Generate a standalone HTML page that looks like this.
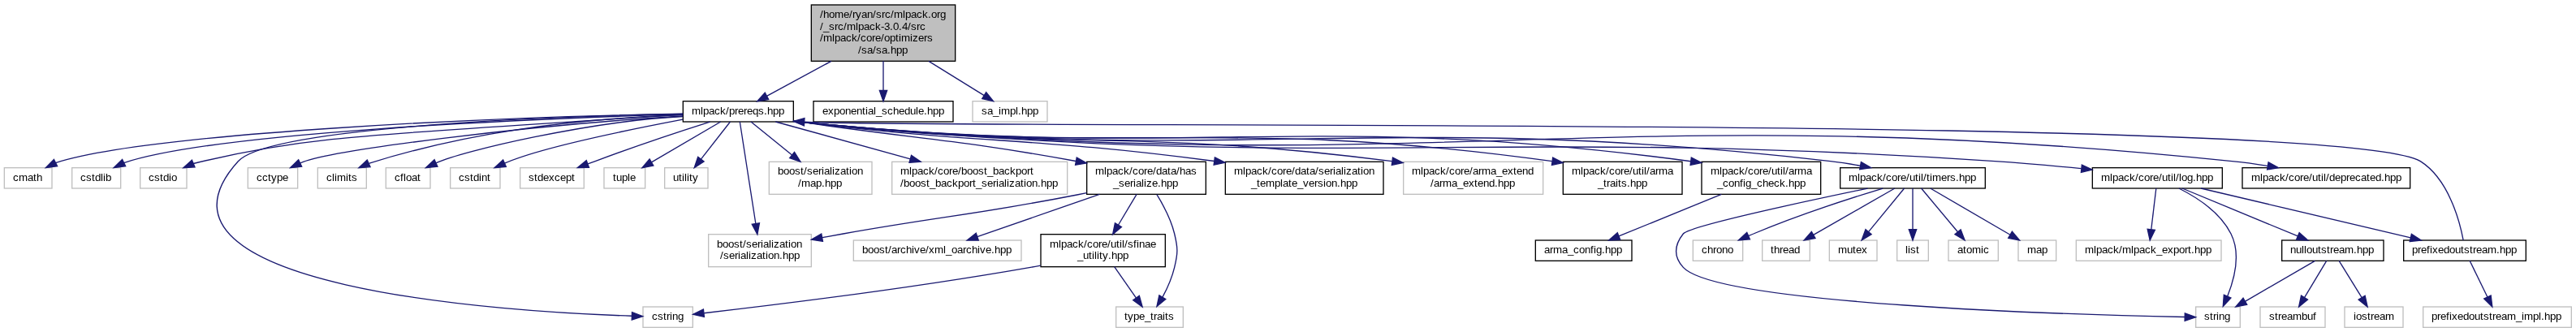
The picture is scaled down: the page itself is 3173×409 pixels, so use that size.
<!DOCTYPE html>
<html><head><meta charset="utf-8"><title>sa.hpp include graph</title>
<style>
html,body{margin:0;padding:0;background:#fff;}
body{width:3173px;height:409px;overflow:hidden;font-family:"Liberation Sans",sans-serif;}
svg{display:block;will-change:transform;}
.e{fill:none;stroke:#191970;}
.a{fill:#191970;stroke:#191970;}
.t text{font-family:"Liberation Sans",sans-serif;font-size:13.3333px;fill:#000;white-space:pre;}
</style></head><body>
<svg width="3173" height="409" viewBox="0 0 3173 409">
<rect width="3173" height="409" fill="#fff"/>
<g stroke-width="1.3333">
<rect x="999.33" y="6" width="177.34" height="69.33" fill="#bfbfbf" stroke="black"/>
<rect x="841.33" y="124.67" width="136" height="25.33" fill="white" stroke="black"/>
<path class="e" d="M1023.93,75.33L944.47,118.32"/>
<polygon class="a" points="942.25,114.22 932.74,124.67 946.69,122.43"/>
<rect x="1002" y="124.67" width="172" height="25.33" fill="white" stroke="black"/>
<path class="e" d="M1088,75.33L1088,111.33"/>
<polygon class="a" points="1083.33,111.33 1088,124.67 1092.67,111.33"/>
<rect x="1198" y="124.67" width="92" height="25.33" fill="white" stroke="#bfbfbf"/>
<path class="e" d="M1143.94,75.33L1212.22,117.64"/>
<polygon class="a" points="1209.77,121.61 1223.56,124.67 1214.68,113.68"/>
<rect x="5.33" y="206.67" width="58.67" height="25.33" fill="white" stroke="#bfbfbf"/>
<path class="e" d="M841.1,140.2C614.81,143.89 185.57,163.12 68.5,200.6"/>
<polygon class="a" points="66.41,196.43 56.4,206.67 70.59,204.77"/>
<rect x="88.67" y="206.67" width="60" height="25.33" fill="white" stroke="#bfbfbf"/>
<path class="e" d="M841.1,140.6C643.83,146.75 266.04,162.97 152.6,200.6"/>
<polygon class="a" points="150.55,196.41 140.2,206.67 154.65,204.79"/>
<rect x="172.67" y="206.67" width="57.33" height="25.33" fill="white" stroke="#bfbfbf"/>
<path class="e" d="M841.1,141C462.3,166.52 383.07,165.83 238.2,201.5"/>
<polygon class="a" points="236.39,197.2 225.9,206.67 240.01,205.8"/>
<rect x="792" y="378" width="61.33" height="25.33" fill="white" stroke="#bfbfbf"/>
<path class="e" d="M841.1,140.3C633.02,144.15 328.73,159.66 293.3,198.7 151.39,355.12 627.07,384.31 778.12,389.28"/>
<polygon class="a" points="778.52,384.63 791.69,389.69 778.23,393.96"/>
<rect x="305.33" y="206.67" width="61.34" height="25.33" fill="white" stroke="#bfbfbf"/>
<path class="e" d="M841.1,143C649.26,154.26 403.17,185.32 369.7,201"/>
<polygon class="a" points="367.72,196.77 357.6,206.67 371.68,205.23"/>
<rect x="391.33" y="206.67" width="60" height="25.33" fill="white" stroke="#bfbfbf"/>
<path class="e" d="M841.1,141.5C695.05,146.97 569.99,165.04 454.2,201.3"/>
<polygon class="a" points="452.32,197.03 442,206.67 456.08,205.57"/>
<rect x="475.33" y="206.67" width="54.67" height="25.33" fill="white" stroke="#bfbfbf"/>
<path class="e" d="M841.1,143.5C727.82,149.05 569.23,186.02 537,200.9"/>
<polygon class="a" points="535.04,196.66 524.5,206.67 538.96,205.14"/>
<rect x="554.67" y="206.67" width="61.33" height="25.33" fill="white" stroke="#bfbfbf"/>
<path class="e" d="M841.1,147.2C768.31,161.04 664.14,182.39 621.5,201.2"/>
<polygon class="a" points="619.62,196.93 609.1,206.67 623.38,205.47"/>
<rect x="640.67" y="206.67" width="78.66" height="25.33" fill="white" stroke="#bfbfbf"/>
<path class="e" d="M874.57,150.09C837.23,161.95 779.31,181.16 733.2,198.67 730.21,199.73 727.13,200.84 724.04,201.96"/>
<polygon class="a" points="725.52,206.39 711.39,206.6 722.29,197.63"/>
<rect x="744" y="206.67" width="50.67" height="25.33" fill="white" stroke="#bfbfbf"/>
<path class="e" d="M887.71,150L802.46,199.93"/>
<polygon class="a" points="800.11,195.9 790.96,206.67 804.82,203.95"/>
<rect x="818.67" y="206.67" width="53.33" height="25.33" fill="white" stroke="#bfbfbf"/>
<path class="e" d="M899.45,150L863.42,196.16"/>
<polygon class="a" points="859.74,193.28 855.22,206.67 867.1,199.03"/>
<rect x="872.67" y="288.67" width="126.66" height="40" fill="white" stroke="#bfbfbf"/>
<path class="e" d="M911.3,150L930.84,275.49"/>
<polygon class="a" points="926.23,276.21 932.89,288.67 935.45,274.77"/>
<rect x="947.33" y="199.33" width="126.67" height="40" fill="white" stroke="#bfbfbf"/>
<path class="e" d="M924.99,150L975.59,190.95"/>
<polygon class="a" points="972.65,194.57 985.95,199.33 978.52,187.32"/>
<rect x="1098.67" y="199.33" width="216" height="40" fill="white" stroke="#bfbfbf"/>
<path class="e" d="M955.26,150L1121.29,195.79"/>
<polygon class="a" points="1120.05,200.29 1134.15,199.33 1122.53,191.29"/>
<rect x="1338.67" y="199.33" width="146.66" height="40" fill="white" stroke="black"/>
<path class="e" d="M977.41,148.92C981.44,149.51 985.44,150.09 989.33,150.67 1134.93,171.95 1175.47,171.31 1325.16,198.51"/>
<polygon class="a" points="1326.27,193.96 1338.53,200.96 1324.57,203.15"/>
<rect x="1509.33" y="199.33" width="194.67" height="40" fill="white" stroke="black"/>
<path class="e" d="M977.39,149.13C981.43,149.68 985.43,150.19 989.33,150.67 1210.16,177.64 1270.32,168.6 1495.65,198.53"/>
<polygon class="a" points="1496.37,193.92 1508.97,200.32 1495.13,203.17"/>
<rect x="1728.67" y="199.33" width="172" height="40" fill="white" stroke="#bfbfbf"/>
<path class="e" d="M977.37,149.27C981.41,149.77 985.43,150.24 989.33,150.67 1306.73,186.39 1392.72,157.56 1714.61,198.65"/>
<polygon class="a" points="1715.52,194.05 1728.13,200.4 1714.32,203.32"/>
<rect x="1925.33" y="199.33" width="146.67" height="40" fill="white" stroke="black"/>
<path class="e" d="M977.36,149.33C981.41,149.83 985.43,150.27 989.33,150.67 1394.09,193.44 1503.64,142.41 1911.87,198.69"/>
<polygon class="a" points="1912.69,194.09 1925.27,200.53 1911.43,203.35"/>
<rect x="2096" y="199.33" width="146.67" height="40" fill="white" stroke="black"/>
<path class="e" d="M977.36,149.37C981.4,149.85 985.41,150.29 989.33,150.67 1469.68,199.09 1599,134.08 2082.63,198.72"/>
<polygon class="a" points="2083.33,194.11 2095.95,200.49 2082.11,203.36"/>
<rect x="2577.33" y="206.67" width="160" height="25.33" fill="white" stroke="black"/>
<path class="e" d="M977.35,149.41C981.4,149.89 985.41,150.31 989.33,150.67 1639.44,213.85 1805.89,155.07 2457.33,198.67 2492.05,200.91 2530.09,204.35 2563.57,207.69"/>
<polygon class="a" points="2564.35,203.08 2577.15,209.07 2563.4,212.36"/>
<rect x="2266.67" y="206.67" width="178.66" height="25.33" fill="white" stroke="black"/>
<path class="e" d="M977.36,149.4C981.4,149.87 985.41,150.29 989.33,150.67 1549.65,205.16 1695.49,134.08 2254.67,198.67 2266.56,200.01 2279.16,201.99 2291.27,204.15"/>
<polygon class="a" points="2292.43,199.61 2304.68,206.65 2290.72,208.79"/>
<rect x="2762" y="206.67" width="206.67" height="25.33" fill="white" stroke="black"/>
<path class="e" d="M977.35,149.44C981.4,149.91 985.41,150.32 989.33,150.67 1768.81,225.49 1970.44,117.99 2749.33,198.67 2763.51,200.04 2778.56,202.09 2792.96,204.36"/>
<polygon class="a" points="2794.13,199.83 2806.53,206.59 2792.61,209.03"/>
<path class="e" d="M1338.51,237.6C1334.51,238.43 1330.55,239.24 1326.67,240 1199.33,265.01 1166.44,265.32 1038.67,288 1030.35,289.48 1021.65,291.05 1013,292.65"/>
<polygon class="a" points="1013.45,297.32 999.49,295.16 1011.75,288.13"/>
<rect x="1282" y="288.67" width="153.33" height="40" fill="white" stroke="black"/>
<path class="e" d="M1400.06,239.33L1377.44,277.22"/>
<polygon class="a" points="1373.43,274.83 1370.61,288.67 1381.45,279.61"/>
<rect x="1374.67" y="378" width="82.66" height="25.33" fill="white" stroke="#bfbfbf"/>
<path class="e" d="M1424.93,239.72C1432.93,252.71 1442.45,270.63 1446.67,288 1450.99,305.85 1450.96,311.47 1446.67,329.33 1443.59,342.11 1437.81,355.23 1432.03,365.92"/>
<polygon class="a" points="1435.85,368.61 1424.93,377.59 1427.88,363.77"/>
<rect x="1051.33" y="296" width="206.67" height="25.33" fill="white" stroke="#bfbfbf"/>
<path class="e" d="M1354.39,239.33L1203.75,291.63"/>
<polygon class="a" points="1202.22,287.22 1191.15,296 1205.28,296.04"/>
<path class="e" d="M1281.75,327.05C1277.56,327.85 1273.4,328.63 1269.33,329.33 1122.83,354.99 947.63,376.43 867.12,385.75"/>
<polygon class="a" points="867.43,390.41 853.67,387.23 866.41,381.13"/>
<path class="e" d="M1372.65,328.67L1399.5,367.07"/>
<polygon class="a" points="1395.68,369.75 1407.14,378 1403.33,364.4"/>
<rect x="1891.33" y="296" width="118.67" height="25.33" fill="white" stroke="black"/>
<path class="e" d="M2120.38,239.33L1994.01,290.96"/>
<polygon class="a" points="1992.25,286.64 1981.67,296 1995.78,295.28"/>
<rect x="2704.67" y="378" width="54.66" height="25.33" fill="white" stroke="#bfbfbf"/>
<path class="e" d="M2683.87,232.01C2705.55,242.88 2734.69,261.55 2748,288 2760.21,312.28 2752.19,343.61 2743.71,364.97"/>
<polygon class="a" points="2747.89,367.04 2738.28,377.39 2739.33,363.29"/>
<rect x="2557.33" y="296" width="178.67" height="25.33" fill="white" stroke="#bfbfbf"/>
<path class="e" d="M2655.82,232L2649.76,282.76"/>
<polygon class="a" points="2645.13,282.21 2648.18,296 2654.39,283.31"/>
<rect x="2960.67" y="296" width="150.66" height="25.33" fill="white" stroke="black"/>
<path class="e" d="M2711.02,232L2969.33,292.94"/>
<polygon class="a" points="2968.26,297.48 2982.31,296 2970.4,288.4"/>
<rect x="2810.67" y="296" width="125.33" height="25.33" fill="white" stroke="black"/>
<path class="e" d="M2687.96,232L2830.39,290.9"/>
<polygon class="a" points="2828.6,295.22 2842.71,296 2832.17,286.59"/>
<path class="e" d="M3034.16,295.87C3029.77,272.75 3016.31,220.81 2981.33,198.67 2890.36,141.07 1196.15,159.15 991.05,150.28"/>
<polygon class="a" points="990.39,154.91 977.35,149.45 990.93,145.59"/>
<rect x="2984.67" y="378" width="182.66" height="25.33" fill="white" stroke="#bfbfbf"/>
<path class="e" d="M3042.18,321.33L3063.98,366.02"/>
<polygon class="a" points="3059.78,368.06 3069.82,378 3068.17,363.97"/>
<path class="e" d="M2851.5,321.33L2765.36,371.31"/>
<polygon class="a" points="2763.02,367.27 2753.83,378 2767.71,375.35"/>
<rect x="2888" y="378" width="72" height="25.33" fill="white" stroke="#bfbfbf"/>
<path class="e" d="M2881.16,321.33L2909.16,366.66"/>
<polygon class="a" points="2905.19,369.11 2916.17,378 2913.13,364.2"/>
<rect x="2784" y="378" width="80" height="25.33" fill="white" stroke="#bfbfbf"/>
<path class="e" d="M2865.71,321.33L2838.49,366.57"/>
<polygon class="a" points="2834.5,364.17 2831.62,378 2842.49,368.98"/>
<path class="e" d="M2300.59,232.04C2220.32,248.76 2080.44,279 2073.33,288 2061.95,302.41 2060.95,315.77 2073.33,329.33 2115.07,375.04 2553.76,387.72 2691.12,390.53"/>
<polygon class="a" points="2691.29,385.87 2704.55,390.76 2691.13,395.2"/>
<rect x="2486" y="296" width="46.67" height="25.33" fill="white" stroke="#bfbfbf"/>
<path class="e" d="M2377.74,232L2476.07,289.29"/>
<polygon class="a" points="2473.72,293.32 2487.59,296 2478.42,285.26"/>
<rect x="2085.33" y="296" width="61.34" height="25.33" fill="white" stroke="#bfbfbf"/>
<path class="e" d="M2319.24,232.04C2277.82,244.65 2211.87,266.13 2159.87,288 2157.97,288.75 2156.05,289.53 2154.11,290.35"/>
<polygon class="a" points="2155.48,294.84 2141.4,295.88 2151.76,286.28"/>
<rect x="2170.67" y="296" width="58.66" height="25.33" fill="white" stroke="#bfbfbf"/>
<path class="e" d="M2333.88,232L2233.69,289.37"/>
<polygon class="a" points="2231.37,285.32 2222.12,296 2236.01,293.42"/>
<rect x="2253.33" y="296" width="58.67" height="25.33" fill="white" stroke="#bfbfbf"/>
<path class="e" d="M2345.6,232L2301.52,285.69"/>
<polygon class="a" points="2297.92,282.73 2293.06,296 2305.13,288.66"/>
<rect x="2336.67" y="296" width="38.66" height="25.33" fill="white" stroke="#bfbfbf"/>
<path class="e" d="M2356,232L2356,282.67"/>
<polygon class="a" points="2351.33,282.67 2356,296 2360.67,282.67"/>
<rect x="2400" y="296" width="61.33" height="25.33" fill="white" stroke="#bfbfbf"/>
<path class="e" d="M2366.59,232L2411.53,285.77"/>
<polygon class="a" points="2407.95,288.76 2420.08,296 2415.11,282.78"/>
</g>
<g class="t">
<text x="1010 1014 1021 1028 1039 1046 1050 1054 1061 1068 1075 1079 1086 1090 1097 1101 1112 1115 1122 1129 1136 1143 1147 1154 1158" y="22">/home/ryan/src/mlpack.org</text>
<text x="1010 1014 1021 1028 1032 1039 1043 1054 1057 1064 1071 1078 1085 1089 1096 1100 1107 1111 1118 1122 1129 1133" y="37">/_src/mlpack-3.0.4/src</text>
<text x="1010 1014 1025 1028 1035 1042 1049 1056 1060 1067 1074 1078 1085 1089 1096 1103 1107 1110 1121 1124 1131 1138 1142" y="51">/mlpack/core/optimizers</text>
<text x="1057 1061 1068 1075 1079 1086 1093 1097 1104 1111" y="66">/sa/sa.hpp</text>
<text x="852 863 866 873 880 887 894 898 905 909 916 920 927 934 941 945 952 959" y="141">mlpack/prereqs.hpp</text>
<text x="1013 1020 1027 1034 1041 1048 1055 1062 1066 1069 1076 1079 1086 1093 1100 1107 1114 1121 1128 1131 1138 1142 1149 1156" y="141">exponential_schedule.hpp</text>
<text x="1209 1216 1223 1230 1233 1244 1251 1254 1258 1265 1272" y="141">sa_impl.hpp</text>
<text x="16 23 34 41 45" y="223">cmath</text>
<text x="99 106 113 117 124 127 130" y="223">cstdlib</text>
<text x="183 190 197 201 208 211" y="223">cstdio</text>
<text x="803 810 817 821 825 828 835" y="394">cstring</text>
<text x="316 323 330 334 341 348" y="223">cctype</text>
<text x="402 409 412 415 426 429 433" y="223">climits</text>
<text x="486 493 497 500 507 514" y="223">cfloat</text>
<text x="565 572 579 583 590 593 600" y="223">cstdint</text>
<text x="651 658 662 669 676 683 690 697 704" y="223">stdexcept</text>
<text x="755 759 766 773 776" y="223">tuple</text>
<text x="829 836 840 843 846 849 853" y="223">utility</text>
<text x="883 890 897 904 911 915 919 926 933 937 940 947 950 953 960 967 971 974 981" y="305">boost/serialization</text>
<text x="887 891 898 905 909 912 919 922 925 932 939 943 946 953 960 964 971 978" y="319">/serialization.hpp</text>
<text x="958 965 972 979 986 990 994 1001 1008 1012 1015 1022 1025 1028 1035 1042 1046 1049 1056" y="215">boost/serialization</text>
<text x="983 987 998 1005 1012 1016 1023 1030" y="230">/map.hpp</text>
<text x="1109 1120 1123 1130 1137 1144 1151 1155 1162 1169 1173 1180 1184 1191 1198 1205 1212 1216 1223 1230 1237 1244 1251 1258 1265 1269" y="215">mlpack/core/boost_backport</text>
<text x="1109 1113 1120 1127 1134 1141 1145 1152 1159 1166 1173 1180 1187 1194 1198 1202 1209 1216 1223 1227 1230 1237 1240 1243 1250 1257 1261 1264 1271 1278 1282 1289 1296" y="230">/boost_backport_serialization.hpp</text>
<text x="1349 1360 1363 1370 1377 1384 1391 1395 1402 1409 1413 1420 1424 1431 1438 1442 1449 1453 1460 1467" y="215">mlpack/core/data/has</text>
<text x="1371 1378 1385 1392 1396 1399 1406 1409 1412 1419 1426 1430 1437 1444" y="230">_serialize.hpp</text>
<text x="1520 1531 1534 1541 1548 1555 1562 1566 1573 1580 1584 1591 1595 1602 1609 1613 1620 1624 1631 1638 1642 1645 1652 1655 1658 1665 1672 1676 1679 1686" y="215">mlpack/core/data/serialization</text>
<text x="1541 1548 1552 1559 1570 1577 1580 1587 1591 1598 1605 1612 1619 1623 1630 1633 1640 1647 1651 1658 1665" y="230">_template_version.hpp</text>
<text x="1739 1750 1753 1760 1767 1774 1781 1785 1792 1799 1803 1810 1814 1821 1825 1836 1843 1850 1857 1864 1868 1875 1882" y="215">mlpack/core/arma_extend</text>
<text x="1762 1766 1773 1777 1788 1795 1802 1809 1816 1820 1827 1834 1841 1845 1852 1859" y="230">/arma_extend.hpp</text>
<text x="1936 1947 1950 1957 1964 1971 1978 1982 1989 1996 2000 2007 2011 2018 2022 2025 2028 2032 2039 2043 2054" y="215">mlpack/core/util/arma</text>
<text x="1968 1975 1979 1983 1990 1993 1997 2004 2008 2015 2022" y="230">_traits.hpp</text>
<text x="2107 2118 2121 2128 2135 2142 2149 2153 2160 2167 2171 2178 2182 2189 2193 2196 2199 2203 2210 2214 2225" y="215">mlpack/core/util/arma</text>
<text x="2115 2122 2129 2136 2143 2147 2150 2157 2164 2171 2178 2185 2192 2199 2203 2210 2217" y="230">_config_check.hpp</text>
<text x="2588 2599 2602 2609 2616 2623 2630 2634 2641 2648 2652 2659 2663 2670 2674 2677 2680 2684 2687 2694 2701 2705 2712 2719" y="223">mlpack/core/util/log.hpp</text>
<text x="2277 2288 2291 2298 2305 2312 2319 2323 2330 2337 2341 2348 2352 2359 2363 2366 2369 2373 2377 2380 2391 2398 2402 2409 2413 2420 2427" y="223">mlpack/core/util/timers.hpp</text>
<text x="2773 2784 2787 2794 2801 2808 2815 2819 2826 2833 2837 2844 2848 2855 2859 2862 2865 2869 2876 2883 2890 2894 2901 2908 2915 2919 2926 2933 2937 2944 2951" y="223">mlpack/core/util/deprecated.hpp</text>
<text x="1293 1304 1307 1314 1321 1328 1335 1339 1346 1353 1357 1364 1368 1375 1379 1382 1385 1389 1396 1400 1403 1410 1417" y="305">mlpack/core/util/sfinae</text>
<text x="1327 1334 1341 1345 1348 1351 1354 1358 1365 1369 1376 1383" y="319">_utility.hpp</text>
<text x="1385 1389 1396 1403 1410 1417 1421 1425 1432 1435 1439" y="394">type_traits</text>
<text x="1062 1069 1076 1083 1090 1094 1098 1105 1109 1116 1123 1126 1133 1140 1144 1151 1162 1165 1172 1179 1186 1190 1197 1204 1207 1214 1221 1225 1232 1239" y="312">boost/archive/xml_oarchive.hpp</text>
<text x="1902 1909 1913 1924 1931 1938 1945 1952 1959 1963 1966 1973 1977 1984 1991" y="312">arma_config.hpp</text>
<text x="2715 2722 2726 2730 2733 2740" y="394">string</text>
<text x="2568 2579 2582 2589 2596 2603 2610 2614 2625 2628 2635 2642 2649 2656 2663 2670 2677 2684 2691 2695 2699 2703 2710 2717" y="312">mlpack/mlpack_export.hpp</text>
<text x="2971 2978 2982 2989 2993 2996 3003 3010 3017 3024 3031 3035 3042 3046 3050 3057 3064 3075 3079 3086 3093" y="312">prefixedoutstream.hpp</text>
<text x="2821 2828 2835 2838 2841 2848 2855 2859 2866 2870 2874 2881 2888 2899 2903 2910 2917" y="312">nulloutstream.hpp</text>
<text x="2995 3002 3006 3013 3017 3020 3027 3034 3041 3048 3055 3059 3066 3070 3074 3081 3088 3099 3106 3109 3120 3127 3130 3134 3141 3148" y="394">prefixedoutstream_impl.hpp</text>
<text x="2899 2902 2909 2916 2920 2924 2931 2938" y="394">iostream</text>
<text x="2795 2802 2806 2810 2817 2824 2835 2842 2849" y="394">streambuf</text>
<text x="2497 2508 2515" y="312">map</text>
<text x="2096 2103 2110 2114 2121 2128" y="312">chrono</text>
<text x="2181 2185 2192 2196 2203 2210" y="312">thread</text>
<text x="2264 2275 2282 2286 2293" y="312">mutex</text>
<text x="2347 2350 2353 2360" y="312">list</text>
<text x="2411 2418 2422 2429 2440 2443" y="312">atomic</text>
</g>
</svg>
</body></html>
